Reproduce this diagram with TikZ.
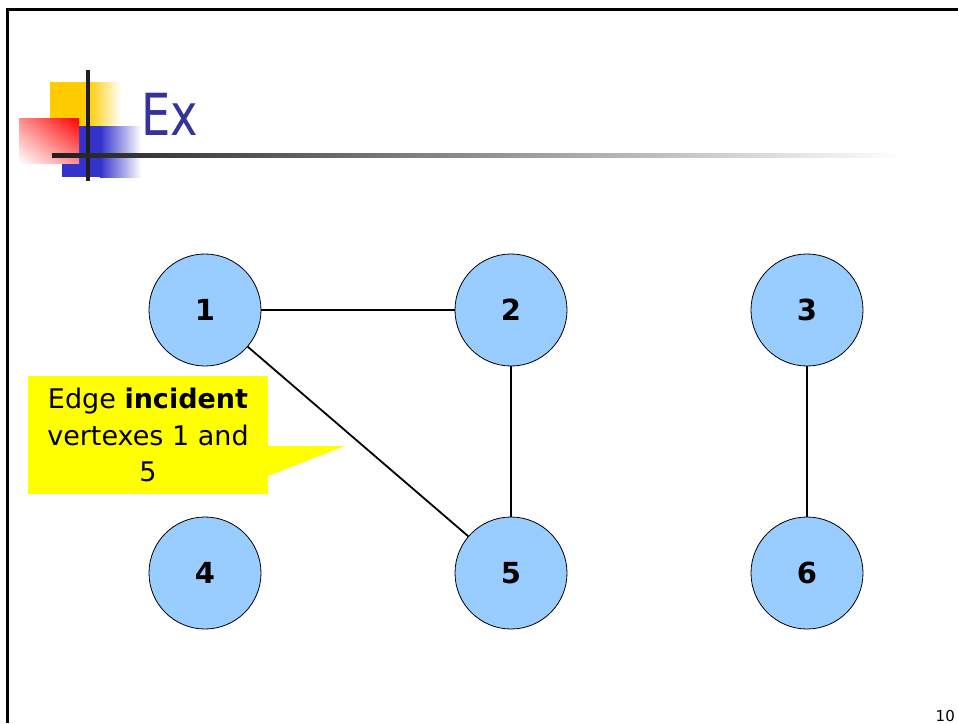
\documentclass[tikz,border=0pt]{standalone}
\usepackage{fontspec}
\setmainfont{DejaVu Sans}
\usetikzlibrary{positioning,shadings}
\definecolor{vfill}{HTML}{99CCFF}
\definecolor{titleblue}{HTML}{333399}
\definecolor{logoyellow}{HTML}{FFCC00}
\definecolor{logoblue}{HTML}{3333CC}
\definecolor{notefill}{HTML}{FFFF00}
\begin{document}
\begin{tikzpicture}[
    x=1pt, y=-1pt,
    vertex/.style = {draw, circle, fill = vfill, line width = .8pt,
                     minimum size = 112pt, inner sep = 0pt,
                     font = \fontsize{29}{32}\selectfont\bfseries},
    edge/.style   = {line width = 1.8pt},
    note/.style   = {fill = notefill, inner sep = 0pt, align = center,
                     minimum width = 240pt, minimum height = 118pt,
                     font = \fontsize{27}{36.5}\selectfont},
  ]
	\useasboundingbox (0,0) rectangle (958,723);

	% Rahmen
	\draw[line width=3pt] (7,723) -- (7,9) -- (958,9);

	% Logo
	\fill[logoyellow] (50,82) rectangle (88,142);
	\shade[left color=logoyellow, right color=white] (88,82) rectangle (121,142);
	\fill[logoblue] (62,126) rectangle (100,177);
	\shade[left color=logoblue, right color=white] (100,126) rectangle (141,177);
	\shade[upper right=red, lower left=white, upper left=red!45!white,
	       lower right=red!45!white] (19,118) rectangle (79,163);
	\draw[line width=4pt, black!88] (88,70) -- (88,181);
	\shade[left color=black!88, middle color=black!25, right color=white]
	      (52,153) rectangle (900,157);

	% Titel
	\node[anchor=base west, inner sep=0pt, text=titleblue,
	      font=\fontsize{58}{64}\selectfont]
	      (title) at (141,135) {\scalebox{0.8}[1]{Ex}};

	% Knoten
	\node (v1) at (205,310) [vertex] {1};
	\node (v2) at (511,310) [vertex] {2};
	\node (v3) at (807,310) [vertex] {3};
	\node (v4) at (205,573) [vertex] {4};
	\node (v5) at (511,573) [vertex] {5};
	\node (v6) at (807,573) [vertex] {6};

	% Kanten
	\draw[edge] (v1) -- (v2);
	\draw[edge] (v1) -- (v5);
	\draw[edge] (v2) -- (v5);
	\draw[edge] (v3) -- (v6);

	% Sprechblase
	\coordinate (tip) at (345,446);
	\node (callout) at (148,435) [note] {Edge \textbf{incident}\\vertexes 1 and\\5};
	\fill[notefill] (268,446) -- (tip) -- (268,476) -- cycle;

	% Seitenzahl
	\node[anchor=base east, inner sep=0pt, font=\fontsize{15}{17}\selectfont]
	      (page) at (955,721) {10};
\end{tikzpicture}
\end{document}
